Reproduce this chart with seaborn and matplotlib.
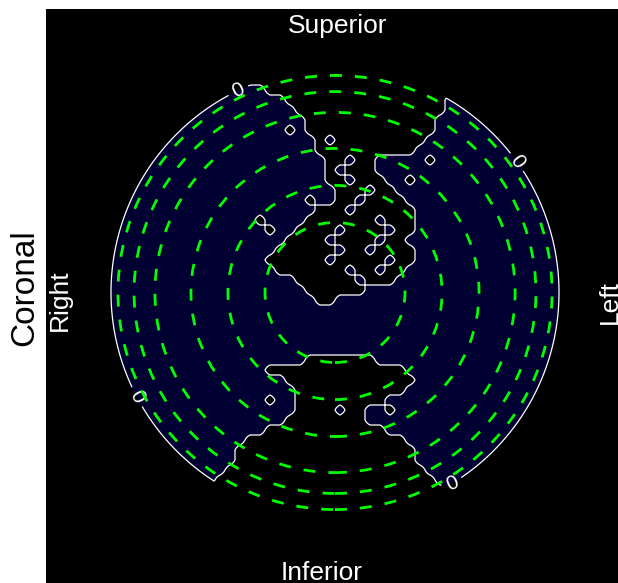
import numpy as np
import matplotlib
matplotlib.use("Agg")
import matplotlib.pyplot as plt
from matplotlib.patches import Circle
import seaborn as sns

# ---------------- data ----------------
# dashed reference rings (fraction of the disk radius)
ring_radii = [0.3125, 0.478, 0.643, 0.804, 0.897, 0.969]
disk_radius = 1.0
contour_levels = [0]

# sign map of the field on a 46 x 46 sample grid (rows top->bottom):
# cells listed here are negative (black), every other cell is positive (navy)
negative_runs = [
    [(13, 34)], [(13, 34)], [(16, 34)], [(18, 33)], [(19, 33)],
    [(20, 32)], [(20, 32)], [(21, 31)], [(21, 30)], [(22, 26)],
    [(22, 26)], [(22, 27)], [(23, 28)], [(23, 29)], [(21, 30)],
    [(15, 15), (20, 30)], [(16, 16), (19, 30)], [(18, 29)], [(17, 30)], [(16, 30)],
    [(17, 29)], [(19, 28)], [(20, 25)], [(21, 22)], [],
    [], [], [], [], [(20, 26)],
    [(16, 29)], [(18, 30)], [(19, 29)], [(19, 27)], [(19, 25)],
    [(18, 25)], [(16, 27)], [(14, 29)], [(13, 30)], [(13, 30)],
    [(12, 31)], [(11, 32)], [(10, 34)], [(8, 37)], [(8, 37)],
    [(8, 37)],
]
# positive islands inside the negative regions (row, col)
positive_islands = [(7, 22), (9, 24), (10, 23), (11, 24), (12, 26), (13, 25),
                    (14, 24), (15, 27), (16, 23), (16, 28), (17, 22), (17, 27),
                    (18, 23), (18, 26), (19, 22), (19, 28), (20, 24), (20, 27),
                    (21, 25), (34, 23)]
# negative islands inside the positive regions (row, col)
negative_islands = [(6, 18), (13, 20), (9, 32), (11, 30), (33, 16), (34, 28)]

zero_label_points = [(-0.433, 0.904), (0.826, 0.592), (-0.893, -0.471), (0.513, -0.837)]
side_labels = ["Superior", "Inferior", "Right", "Left"]
view_label = "Coronal"

# ---------------- layout ----------------
W, H, DPI = 618, 583, 100
PX = 224.0                 # pixels per data unit
CX, CY = 335.0, 292.5      # disk centre in pixels
GX0, GY0, GSTEP = 110.0, 70.0, 10.0   # sample grid origin/step in pixels

sns.set_theme(style="white")
plt.rcParams["font.family"] = ["Liberation Sans", "DejaVu Sans"]

NAVY = "#000033"
GREEN = "#00ff00"

fig = plt.figure(figsize=(W / DPI, H / DPI), dpi=DPI, facecolor="white")
ax_left, ax_top = 46.0, 9.0
ax = fig.add_axes([ax_left / W, 0.0, (W - ax_left) / W, (H - ax_top) / H])
ax.set_facecolor("black")
xlim = ((ax_left - CX) / PX, (W - CX) / PX)
ylim = ((CY - H) / PX, (CY - ax_top) / PX)

# build sign grid
n = len(negative_runs)
S = np.ones((n, n))
for j, runs in enumerate(negative_runs):
    for a, b in runs:
        S[j, a:b + 1] = -1.0
for j, i in positive_islands:
    S[j, i] = 1.0
for j, i in negative_islands:
    S[j, i] = -1.0

# fine evaluation grid
u = np.linspace(xlim[0], xlim[1], 900)
v = np.linspace(ylim[0], ylim[1], 900)
U, V = np.meshgrid(u, v)
fi = np.clip((U * PX + CX - GX0) / GSTEP, 0, n - 1)
fj = np.clip((CY - V * PX - GY0) / GSTEP, 0, n - 1)
i0 = np.minimum(np.floor(fi).astype(int), n - 2)
j0 = np.minimum(np.floor(fj).astype(int), n - 2)
ti, tj = fi - i0, fj - j0
M = (S[j0, i0] * (1 - ti) * (1 - tj) + S[j0, i0 + 1] * ti * (1 - tj)
     + S[j0 + 1, i0] * (1 - ti) * tj + S[j0 + 1, i0 + 1] * ti * tj)
R = np.hypot(U, V)
field = np.minimum((disk_radius - R) * 8.0, M)

ax.contourf(U, V, field, levels=[-100, 0, 100], colors=["black", NAVY], antialiased=True)
cs = ax.contour(U, V, field, levels=contour_levels, colors="white", linewidths=0.9)
ax.clabel(cs, levels=contour_levels, inline=True, fmt={0: "0"}, fontsize=15,
          colors="white", manual=zero_label_points)

for r in ring_radii:
    ax.add_patch(Circle((0, 0), r, fill=False, edgecolor=GREEN, linewidth=2.0,
                        linestyle=(0, (4.3, 4.7)), zorder=4))

ax.set_xlim(*xlim)
ax.set_ylim(*ylim)
ax.set_xticks([])
ax.set_yticks([])
for s in ax.spines.values():
    s.set_visible(False)

def fx(px):
    return px / W

def fy(py):
    return 1 - py / H

fig.text(fx(338), fy(33), side_labels[0], color="white", fontsize=19,
         ha="center", va="baseline")
fig.text(fx(322), fy(580), side_labels[1], color="white", fontsize=19,
         ha="center", va="baseline")
fig.text(fx(67), fy(300), side_labels[2], color="white", fontsize=19,
         ha="center", va="baseline", rotation=90, rotation_mode="anchor")
fig.text(fx(617), fy(302), side_labels[3], color="white", fontsize=19,
         ha="center", va="baseline", rotation=90, rotation_mode="anchor")
fig.text(fx(33.5), fy(288), view_label, color="black", fontsize=24,
         ha="center", va="baseline", rotation=90, rotation_mode="anchor")

fig.savefig("out.png", dpi=DPI, facecolor="white")
